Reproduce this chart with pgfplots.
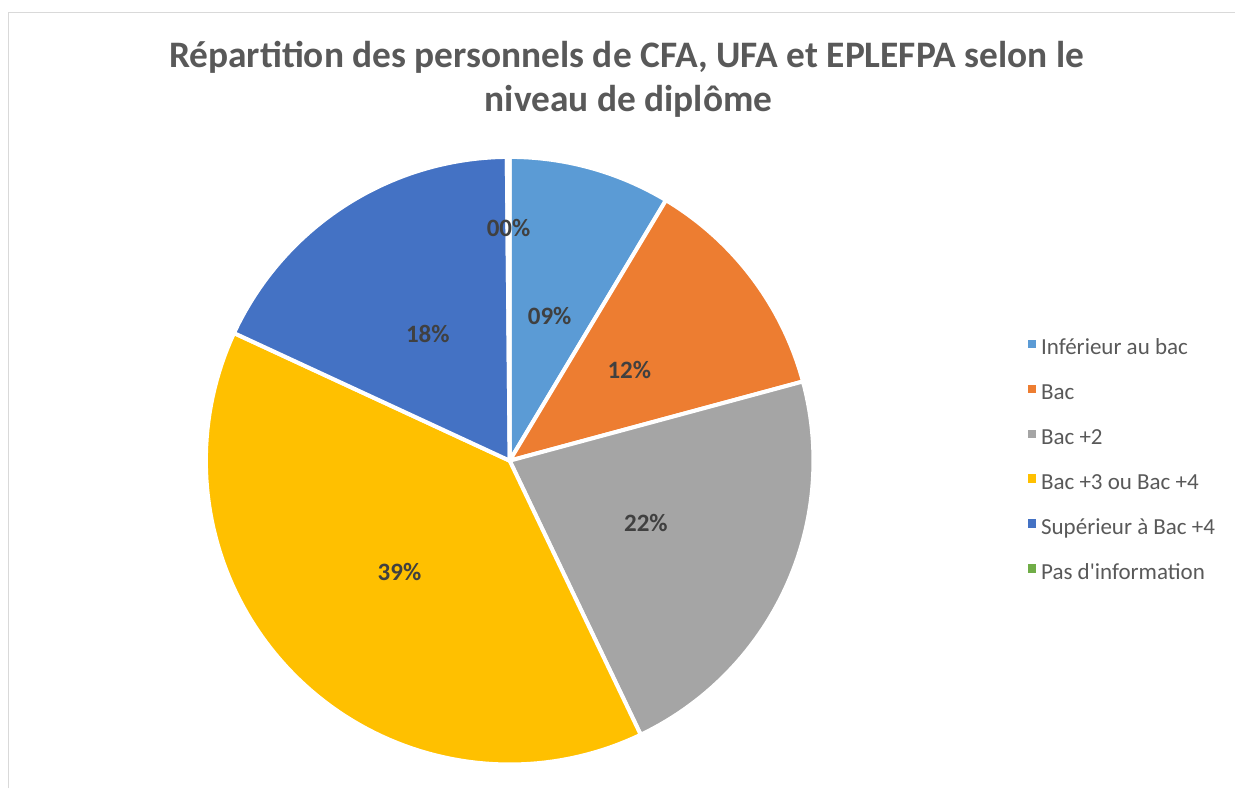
\documentclass[border=0pt]{standalone}
\usepackage{pgfplots}
\usepackage{pgfplotstable}
\pgfplotsset{compat=1.18}
\usepackage{fontspec}
\setmainfont{Carlito}
\definecolor{cA}{HTML}{5B9BD5}
\definecolor{cB}{HTML}{ED7D31}
\definecolor{cC}{HTML}{A5A5A5}
\definecolor{cD}{HTML}{FFC000}
\definecolor{cE}{HTML}{4472C4}
\definecolor{cF}{HTML}{70AD47}
\definecolor{titlegray}{HTML}{595959}
\definecolor{labelgray}{HTML}{404040}
\definecolor{framegray}{HTML}{D9D9D9}

\pgfplotstableread{
value
8.6
12.2
22.1
39.0
17.95
0.15
}\piedata

\pgfplotstablegetelem{0}{value}\of\piedata\pgfmathsetmacro\vA{\pgfplotsretval}
\pgfplotstablegetelem{1}{value}\of\piedata\pgfmathsetmacro\vB{\pgfplotsretval}
\pgfplotstablegetelem{2}{value}\of\piedata\pgfmathsetmacro\vC{\pgfplotsretval}
\pgfplotstablegetelem{3}{value}\of\piedata\pgfmathsetmacro\vD{\pgfplotsretval}
\pgfplotstablegetelem{4}{value}\of\piedata\pgfmathsetmacro\vE{\pgfplotsretval}
\pgfplotstablegetelem{5}{value}\of\piedata\pgfmathsetmacro\vF{\pgfplotsretval}
\pgfmathsetmacro\aA{90}
\pgfmathsetmacro\aB{\aA-3.6*\vA}
\pgfmathsetmacro\aC{\aB-3.6*\vB}
\pgfmathsetmacro\aD{\aC-3.6*\vC}
\pgfmathsetmacro\aE{\aD-3.6*\vD}
\pgfmathsetmacro\aF{\aE-3.6*\vE}
\pgfmathsetmacro\aG{\aF-3.6*\vF}
\pgfmathsetmacro\mA{(\aA+\aB)/2}
\pgfmathsetmacro\mB{(\aB+\aC)/2}
\pgfmathsetmacro\mC{(\aC+\aD)/2}
\pgfmathsetmacro\mD{(\aD+\aE)/2}
\pgfmathsetmacro\mE{(\aE+\aF)/2}
\pgfmathsetmacro\mF{(\aF+\aG)/2}
\def\cx{510}
\def\cy{328}
\def\rr{304}

\begin{document}
\begin{tikzpicture}
\begin{axis}[
  x=0.5bp, y=0.5bp,
  xmin=0, xmax=1236, ymin=0, ymax=789,
  hide axis, clip=false,
  legend cell align=left,
  legend image code/.code={\fill[#1, draw=none] (0bp,0.4bp) rectangle (4.2bp,4.6bp);},
  legend style={
    draw=none, fill=none,
    at={(axis cs:1022,327.5)}, anchor=west,
    font=\fontsize{11.5bp}{13bp}\selectfont, text=titlegray,
    row sep=11.5bp, column sep=2.5bp,
    nodes={inner sep=0pt, text height=8.5bp, text depth=2.5bp},
  },
]
\path (axis cs:0,0) rectangle (axis cs:1236,789);
\draw[framegray, line width=0.8bp] (axis cs:8.5,0) -- (axis cs:8.5,776.5) -- (axis cs:1236,776.5);

\addplot[fill=cA, draw=white, line width=2bp, domain=\aB:\aA, samples=60, variable=\t]
  ({\cx+\rr*cos(\t)}, {\cy+\rr*sin(\t)}) -- (axis cs:\cx,\cy) -- cycle;
\addlegendentry{Inférieur au bac}
\addplot[fill=cB, draw=white, line width=2bp, domain=\aC:\aB, samples=60, variable=\t]
  ({\cx+\rr*cos(\t)}, {\cy+\rr*sin(\t)}) -- (axis cs:\cx,\cy) -- cycle;
\addlegendentry{Bac}
\addplot[fill=cC, draw=white, line width=2bp, domain=\aD:\aC, samples=60, variable=\t]
  ({\cx+\rr*cos(\t)}, {\cy+\rr*sin(\t)}) -- (axis cs:\cx,\cy) -- cycle;
\addlegendentry{Bac +2}
\addplot[fill=cD, draw=white, line width=2bp, domain=\aE:\aD, samples=90, variable=\t]
  ({\cx+\rr*cos(\t)}, {\cy+\rr*sin(\t)}) -- (axis cs:\cx,\cy) -- cycle;
\addlegendentry{Bac +3 ou Bac +4}
\addplot[fill=cE, draw=white, line width=2bp, domain=\aF:\aE, samples=60, variable=\t]
  ({\cx+\rr*cos(\t)}, {\cy+\rr*sin(\t)}) -- (axis cs:\cx,\cy) -- cycle;
\addlegendentry{Supérieur à Bac +4}
\addplot[fill=cF, draw=white, line width=2bp, domain=\aG:\aF, samples=10, variable=\t]
  ({\cx+\rr*cos(\t)}, {\cy+\rr*sin(\t)}) -- (axis cs:\cx,\cy) -- cycle;
\addlegendentry{Pas d\textquotesingle information}

\begin{scope}[every node/.style={font=\fontsize{12.5bp}{14bp}\selectfont\bfseries, text=labelgray}]
\node at (axis cs:{\cx+150*cos(\mA)},{\cy+150*sin(\mA)}) {09\%};
\node at (axis cs:{\cx+150*cos(\mB)},{\cy+150*sin(\mB)}) {12\%};
\node at (axis cs:{\cx+150*cos(\mC)},{\cy+150*sin(\mC)}) {22\%};
\node at (axis cs:{\cx+157*cos(\mD)},{\cy+157*sin(\mD)}) {39\%};
\node at (axis cs:{\cx+151*cos(\mE)},{\cy+151*sin(\mE)}) {18\%};
\node at (axis cs:{\cx+233*cos(\mF)},{\cy+233*sin(\mF)}) {00\%};
\end{scope}

\node[anchor=base, font=\fontsize{18.7bp}{21bp}\selectfont\bfseries, text=titlegray]
  at (axis cs:627,721) {Répartition des personnels de CFA, UFA et EPLEFPA selon le};
\node[anchor=base, font=\fontsize{18.7bp}{21bp}\selectfont\bfseries, text=titlegray]
  at (axis cs:629,677) {niveau de diplôme};
\end{axis}
\end{tikzpicture}
\end{document}
